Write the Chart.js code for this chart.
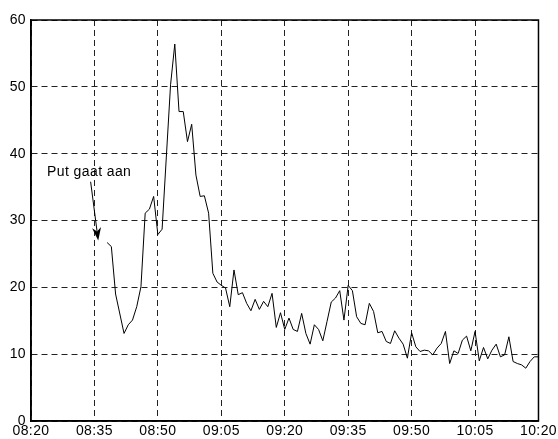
<!DOCTYPE html>
<html>
<head>
<meta charset="utf-8">
<script src="https://cdn.jsdelivr.net/npm/chart.js@4/dist/chart.umd.min.js"></script>
<style>
  html, body { margin: 0; padding: 0; background: #fff; }
  #wrap { width: 558px; height: 439px; }
</style>
</head>
<body>
<div id="wrap"><canvas id="c" width="558" height="439"></canvas></div>
<script>
// Clock labels along the time axis (every 15 minutes from 08:20)
const timeTicks = ['08:20', '08:35', '08:50', '09:05', '09:20', '09:35', '09:50', '10:05', '10:20'];

// Sample times, in minutes after 08:20
const sampleMinutes = [
  18, 19, 20, 22, 23, 24, 25, 26, 27, 28, 29, 30, 31,
  33, 34, 35, 36, 37, 38, 39, 40, 41, 42, 43, 44, 45, 46, 47, 48, 49, 50,
  51, 52, 53, 54, 55, 56, 57, 58, 59, 60, 61, 62, 63, 64, 65, 66, 67, 68, 69, 70,
  71, 72, 73, 74, 75, 76, 77, 78, 79, 80, 81, 82, 83, 84, 85, 86, 87, 88, 89, 90,
  91, 92, 93, 94, 95, 96, 97, 98, 99, 100, 101, 102, 103, 104, 105, 106, 107, 108, 109, 110,
  111, 112, 113, 114, 115, 116, 117, 118, 119, 120
];

// Measured values
const sampleValues = [
  26.7, 26.1, 19.0, 13.1, 14.4, 15.1, 17.1, 20.1, 31.1, 31.7, 33.6, 27.9, 28.7,
  50.3, 56.4, 46.3, 46.3, 41.8, 44.4, 36.8, 33.6, 33.7, 31.1, 22.1, 20.8, 20.3, 19.9, 17.1, 22.6, 18.9, 19.2,
  17.6, 16.5, 18.2, 16.7, 17.9, 17.1, 19.1, 14.0, 16.2, 13.7, 15.4, 13.7, 13.4, 16.1, 13.1, 11.5, 14.4, 13.7, 12.0, 14.9,
  17.8, 18.4, 19.5, 15.1, 20.3, 19.5, 15.6, 14.6, 14.4, 17.6, 16.4, 13.2, 13.4, 11.9, 11.6, 13.5, 12.4, 11.5, 9.4, 13.2,
  11.1, 10.4, 10.6, 10.5, 9.9, 10.9, 11.6, 13.4, 8.6, 10.5, 10.1, 12.1, 12.7, 10.5, 13.4, 9.0, 11.0, 9.3, 10.6, 11.5,
  9.6, 9.9, 12.6, 8.9, 8.6, 8.4, 7.9, 8.9, 9.6, 9.6
];

// Annotation text and arrow (data coordinates)
const noteText = 'Put gaat aan';
const noteAnchor = [3.8, 36.7];
const arrowFrom = [14.1, 35.8];
const arrowTo = [15.9, 27.0];

const FONT = 'Liberation Sans, Arial, sans-serif';

const points = sampleMinutes.map((m, i) => ({ x: m, y: sampleValues[i] }));

const framePlugin = {
  id: 'frame',
  beforeDraw(chart) {
    chart.ctx.letterSpacing = '0.4px';
  },
  afterDraw(chart) {
    const { ctx, chartArea: a, scales } = chart;
    ctx.save();
    // box around the plot
    ctx.strokeStyle = '#000';
    ctx.lineWidth = 1.5;
    ctx.setLineDash([]);
    ctx.strokeRect(a.left, a.top, a.right - a.left, a.bottom - a.top);

    // annotation
    ctx.fillStyle = '#000';
    ctx.font = '14px ' + FONT;
    ctx.textAlign = 'left';
    ctx.textBaseline = 'alphabetic';
    ctx.fillText(noteText, scales.x.getPixelForValue(noteAnchor[0]), scales.y.getPixelForValue(noteAnchor[1]));

    const x0 = scales.x.getPixelForValue(arrowFrom[0]);
    const y0 = scales.y.getPixelForValue(arrowFrom[1]);
    const x1 = scales.x.getPixelForValue(arrowTo[0]);
    const y1 = scales.y.getPixelForValue(arrowTo[1]);
    const ang = Math.atan2(y1 - y0, x1 - x0);
    const len = 13, half = 4.5, notch = 9;
    ctx.lineWidth = 1;
    ctx.beginPath();
    ctx.moveTo(x0, y0);
    ctx.lineTo(x1 - Math.cos(ang) * notch, y1 - Math.sin(ang) * notch);
    ctx.stroke();
    const bx = x1 - Math.cos(ang) * len, by = y1 - Math.sin(ang) * len;
    const nx = -Math.sin(ang), ny = Math.cos(ang);
    ctx.beginPath();
    ctx.moveTo(x1, y1);
    ctx.lineTo(bx + nx * half, by + ny * half);
    ctx.lineTo(x1 - Math.cos(ang) * notch, y1 - Math.sin(ang) * notch);
    ctx.lineTo(bx - nx * half, by - ny * half);
    ctx.closePath();
    ctx.fill();
    ctx.restore();
  }
};

new Chart(document.getElementById('c'), {
  type: 'line',
  data: {
    datasets: [{
      data: points,
      borderColor: '#000',
      borderWidth: 1,
      pointRadius: 0,
      tension: 0,
      fill: false
    }]
  },
  options: {
    responsive: false,
    animation: false,
    devicePixelRatio: 1,
    layout: { padding: { top: 20, right: 0, bottom: 0, left: 0 } },
    plugins: { legend: { display: false }, tooltip: { enabled: false } },
    scales: {
      x: {
        type: 'linear',
        min: 0,
        max: 120,
        afterBuildTicks(scale) {
          scale.ticks = timeTicks.map((_, i) => ({ value: i * 15 }));
        },
        afterFit(scale) { scale.height = 18; },
        ticks: {
          color: '#000',
          font: { family: FONT, size: 14 },
          padding: 2,
          maxRotation: 0,
          autoSkip: false,
          callback: (v, i) => timeTicks[i]
        },
        grid: {
          color: '#222',
          lineWidth: 1,
          drawTicks: false
        },
        border: { display: true, color: '#000', width: 1.5, dash: [6, 4] }
      },
      y: {
        min: 0,
        max: 60,
        afterFit(scale) { scale.width = 31; },
        ticks: {
          stepSize: 10,
          color: '#000',
          font: { family: FONT, size: 14 },
          padding: 5
        },
        grid: {
          color: '#222',
          lineWidth: 1,
          drawTicks: false
        },
        border: { display: true, color: '#000', width: 1.5, dash: [6, 4] }
      }
    }
  },
  plugins: [framePlugin]
});
</script>
</body>
</html>
